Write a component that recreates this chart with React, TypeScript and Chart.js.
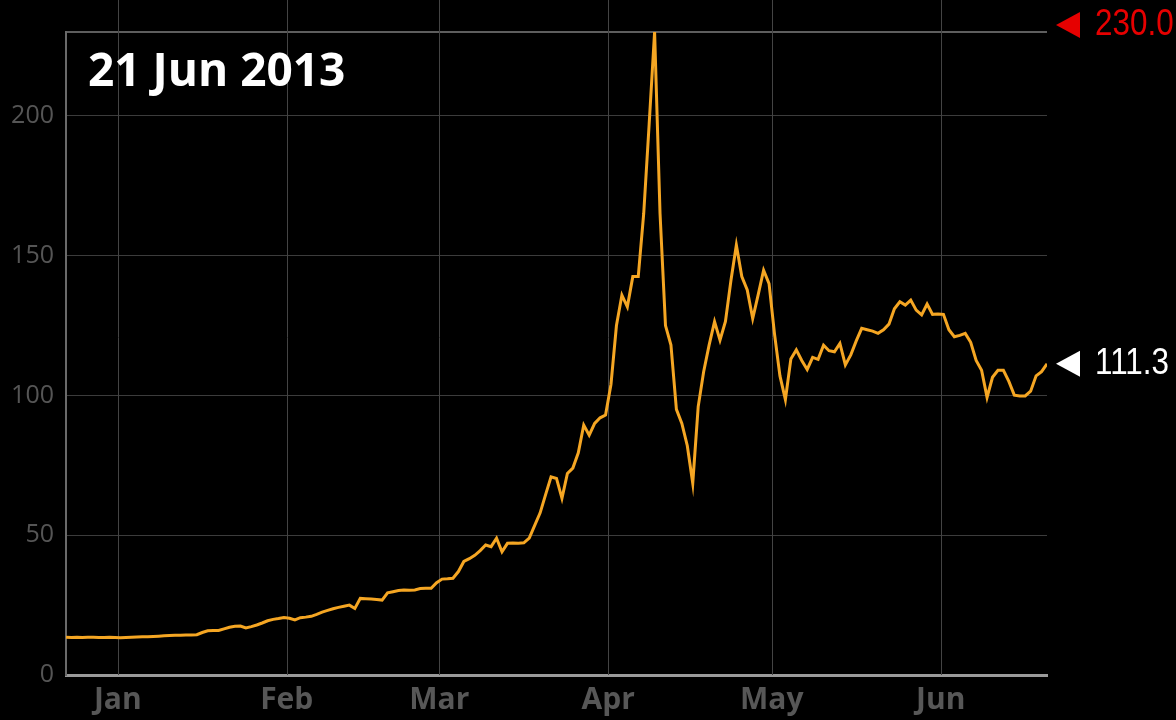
import { useEffect, useRef } from "react";
import { Chart, registerables } from "chart.js";

Chart.register(...registerables);

const titleText = "21 Jun 2013";
const monthLabels = ["Jan", "Feb", "Mar", "Apr", "May", "Jun"];
const monthTickPositions = [9.5, 40.5, 68.5, 99.5, 129.5, 160.5];
const yTickValues = [0, 50, 100, 150, 200];
const yMaxValue = 230;
const maxMarkerValue = 230.0;
const lastMarkerValue = 111.3;

const decValues = [13.5, 13.4, 13.5, 13.4, 13.5, 13.5, 13.4, 13.4, 13.5, 13.4];
const janValues = [
  13.3, 13.4, 13.5, 13.6, 13.7, 13.7, 13.8, 13.9, 14.0, 14.1, 14.2, 14.2, 14.3, 14.3, 14.4,
  15.2, 15.8, 15.9, 15.9, 16.5, 17.1, 17.4, 17.5, 16.8, 17.3, 17.9, 18.6, 19.4, 19.9, 20.2, 20.6,
];
const febValues = [
  20.3, 19.7, 20.5, 20.7, 21.0, 21.7, 22.5, 23.1, 23.7, 24.2, 24.6, 25.0, 23.8, 27.4,
  27.3, 27.2, 27.0, 26.8, 29.4, 29.8, 30.2, 30.4, 30.3, 30.4, 30.9, 31.0, 31.0, 33.0,
];
const marValues = [
  34.3, 34.4, 34.6, 37.0, 40.6, 41.6, 42.8, 44.5, 46.5, 45.9, 48.9, 44.1, 47.1, 47.2, 47.1,
  47.3, 49.0, 53.5, 58.0, 64.5, 70.9, 70.3, 63.2, 72.1, 74.0, 79.5, 89.4, 85.8, 90.0, 92.0, 93.0,
];
const aprValues = [
  104.0, 125.0, 135.9, 131.7, 142.5, 142.5, 165.0, 197.0, 230.0, 165.0, 125.0, 118.0, 95.0, 90.0, 82.0,
  68.6, 96.0, 108.5, 118.0, 126.4, 119.8, 126.5, 141.0, 153.8, 142.5, 137.7, 127.5, 136.0, 144.8, 140.0,
];
const mayValues = [
  122.0, 107.0, 98.5, 113.0, 116.3, 112.5, 109.3, 113.6, 112.9, 118.0, 116.0, 115.6, 118.6, 110.9, 114.5, 119.5,
  124.0, 123.5, 123.0, 122.2, 123.5, 125.5, 131.0, 133.5, 132.3, 134.1, 130.5, 128.8, 132.7, 129.0, 129.1,
];
const junValues = [
  129.0, 123.5, 121.0, 121.5, 122.2, 119.0, 112.5, 109.0, 99.3, 106.5,
  109.0, 109.0, 105.0, 100.1, 99.8, 99.8, 101.5, 107.0, 108.5, 111.3,
];

const prices = [...decValues, ...janValues, ...febValues, ...marValues, ...aprValues, ...mayValues, ...junValues];

const annotationPlugin = {
  id: "annotations",
  beforeDatasetsDraw(chart: any) {
    const { ctx, chartArea, scales } = chart;
    const xs = scales.x;
    ctx.save();
    ctx.strokeStyle = "#444444";
    ctx.lineWidth = 1;
    monthTickPositions.forEach((v) => {
      const x = Math.round(xs.getPixelForValue(v)) + 0.5;
      ctx.beginPath();
      ctx.moveTo(x, 0);
      ctx.lineTo(x, chartArea.bottom);
      ctx.stroke();
    });
    ctx.restore();
  },
  afterDraw(chart: any) {
    const { ctx, chartArea, scales } = chart;
    const ys = scales.y;
    ctx.save();
    ctx.fillStyle = "#ffffff";
    ctx.font = 'bold 46px "Open Sans"';
    ctx.textBaseline = "alphabetic";
    ctx.textAlign = "left";
    ctx.fillText(titleText, chartArea.left + 22, 86);

    const drawMarker = (value: number, yPix: number, color: string) => {
      const tipX = chartArea.right + 9;
      ctx.fillStyle = color;
      ctx.beginPath();
      ctx.moveTo(tipX, yPix);
      ctx.lineTo(tipX + 24, yPix - 13);
      ctx.lineTo(tipX + 24, yPix + 13);
      ctx.closePath();
      ctx.fill();
      ctx.save();
      ctx.translate(tipX + 39, yPix + 10);
      ctx.scale(0.85, 1);
      ctx.font = '37px "Liberation Sans"';
      ctx.textBaseline = "alphabetic";
      ctx.fillText(value.toFixed(1), 0, 0);
      ctx.restore();
    };
    drawMarker(maxMarkerValue, ys.getPixelForValue(maxMarkerValue) - 7, "#e60000");
    drawMarker(lastMarkerValue, ys.getPixelForValue(lastMarkerValue), "#ffffff");
    ctx.restore();
  },
};

export default function App() {
  const canvasRef = useRef<HTMLCanvasElement | null>(null);

  useEffect(() => {
    document.body.style.margin = "0";
    document.body.style.background = "#000";
    const canvas = canvasRef.current;
    if (!canvas) return;
    const chart = new Chart(canvas, {
      type: "line",
      data: {
        datasets: [
          {
            data: prices.map((p, i) => ({ x: i, y: p })),
            borderColor: "#f5a623",
            borderWidth: 3,
            pointRadius: 0,
            tension: 0,
            fill: false,
          },
        ],
      },
      options: {
        animation: false,
        responsive: false,
        maintainAspectRatio: false,
        layout: { padding: { top: 32, right: 129, left: 0, bottom: 0 } },
        plugins: { legend: { display: false }, tooltip: { enabled: false } },
        scales: {
          x: {
            type: "linear",
            min: 0,
            max: prices.length - 1,
            afterBuildTicks: (s: any) => {
              s.ticks = monthTickPositions.map((v) => ({ value: v }));
            },
            afterFit: (s: any) => {
              s.height = 45;
            },
            grid: { display: false, drawTicks: false },
            border: { display: true, color: "#9a9a9a", width: 3 },
            ticks: {
              autoSkip: false,
              maxRotation: 0,
              padding: 7,
              color: "#575757",
              font: { family: "Open Sans", size: 30, weight: "bold" },
              callback: (_v: any, idx: number) => monthLabels[idx],
            },
          },
          y: {
            type: "linear",
            min: 0,
            max: yMaxValue,
            afterBuildTicks: (s: any) => {
              s.ticks = [...yTickValues, yMaxValue].map((v) => ({ value: v }));
            },
            afterFit: (s: any) => {
              s.width = 66;
            },
            grid: {
              drawTicks: false,
              color: (c: any) => (c.tick && c.tick.value === yMaxValue ? "#5e5e5e" : "#3c3c3c"),
              lineWidth: (c: any) => (c.tick && c.tick.value === yMaxValue ? 2 : 1),
            },
            border: { display: true, color: "#6a6a6a", width: 2 },
            ticks: {
              padding: 12,
              color: "#555555",
              font: { family: "Open Sans", size: 25 },
              callback: (v: any) => (v === yMaxValue ? "" : String(v)),
            },
          },
        },
      },
      plugins: [annotationPlugin],
    });
    return () => chart.destroy();
  }, []);

  return (
    <div style={{ position: "fixed", left: 0, top: 0, width: 1176, height: 720, background: "#000" }}>
      <canvas ref={canvasRef} width={1176} height={720} style={{ display: "block", width: 1176, height: 720 }} />
    </div>
  );
}
